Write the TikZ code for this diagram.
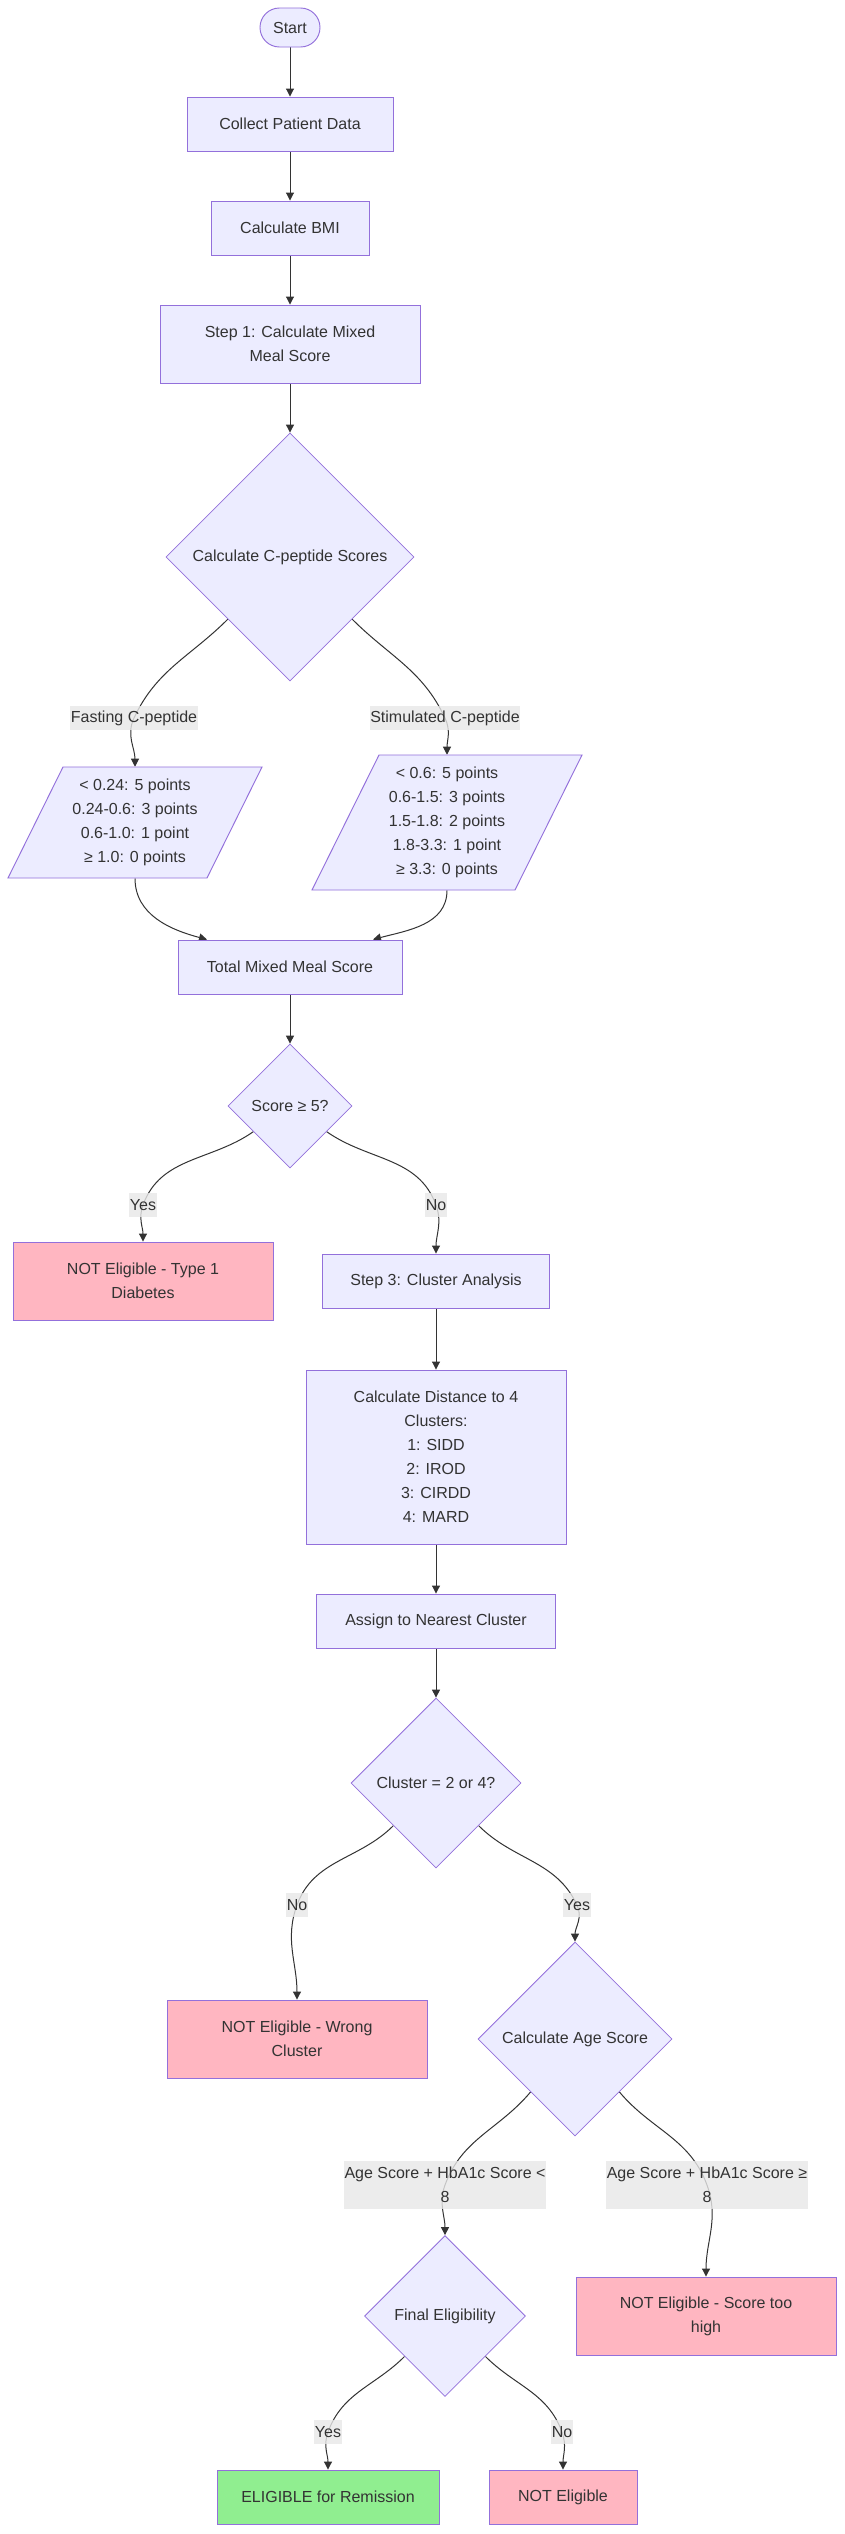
\documentclass[tikz,border=0pt]{standalone}
\usepackage{fontspec}
\setmainfont{Liberation Sans}
\usetikzlibrary{shapes.geometric,arrows.meta,calc,backgrounds}
\definecolor{boxfill}{HTML}{ECECFF}
\definecolor{boxline}{HTML}{9370DB}
\definecolor{linkline}{HTML}{333333}
\definecolor{labelfill}{HTML}{E8E8E8}
\definecolor{rejectfill}{HTML}{FFB6C1}
\definecolor{acceptfill}{HTML}{90EE90}

\begin{document}
\begin{tikzpicture}[x=0.75pt, y=-0.75pt,
			every node/.style = {font=\fontsize{12}{18}\selectfont, text=linkline, align=center, inner sep=0pt},
			box/.style = {rectangle, draw=boxline, fill=boxfill, line width=0.7pt, minimum height=40.5pt},
			reject/.style = {box, fill=rejectfill},
			accept/.style = {box, fill=acceptfill},
			decision/.style = {diamond, aspect=1, draw=boxline, fill=boxfill, line width=0.6pt},
			datashape/.style = {draw=boxline, fill=boxfill, line width=0.7pt},
			edgelabel/.style = {fill=labelfill, fill opacity=0.8, text opacity=1, minimum height=18pt, inner xsep=0.5pt},
			flow/.style = {draw=linkline, line width=0.75pt, -{Triangle[length=6pt,width=6pt]}}]
			
			\path[use as bounding box] (0,0) rectangle (844,2534);
			
			\node[box, rounded corners=14.6pt, minimum width=45pt, minimum height=29.25pt] (start) at (290,27.5) {Start};
			\node[box, minimum width=154.5pt] (collect) at (290,124) {Collect Patient Data};
			\node[box, minimum width=118.5pt] (bmi) at (290,228) {Calculate BMI};
			\node[box, minimum width=195pt, minimum height=58.5pt] (step1) at (290,344) {Step 1: Calculate Mixed\\Meal Score};
			\node[decision, minimum width=186pt, minimum height=186pt] (cpep) at (290,557) {Calculate C-peptide Scores};
			
			\coordinate (fastc) at (135,822.5);
			\coordinate (stimc) at (447,822.5);
			\draw[datashape] ($(fastc)+(-72,-55.5)$) -- ($(fastc)+(127,-55.5)$) -- ($(fastc)+(72,55.5)$) -- ($(fastc)+(-127,55.5)$) -- cycle;
			\draw[datashape] ($(stimc)+(-68,-67.5)$) -- ($(stimc)+(135,-67.5)$) -- ($(stimc)+(68,67.5)$) -- ($(stimc)+(-135,67.5)$) -- cycle;
			\node[minimum width=190.5pt, minimum height=83.25pt] (fast) at (fastc) {< 0.24: 5 points\\0.24-0.6: 3 points\\0.6-1.0: 1 point\\≥ 1.0: 0 points};
			\node[minimum width=202.5pt, minimum height=101.25pt] (stim) at (stimc) {< 0.6: 5 points\\0.6-1.5: 3 points\\1.5-1.8: 2 points\\1.8-3.3: 1 point\\≥ 3.3: 0 points};
			
			\node[box, minimum width=168pt] (total) at (290,967) {Total Mixed Meal Score};
			\node[decision, minimum width=93pt, minimum height=93pt] (score) at (290,1106) {Score ≥ 5?};
			\node[reject, minimum width=195pt, minimum height=58.5pt] (type1) at (143,1281) {NOT Eligible - Type 1\\Diabetes};
			\node[box, minimum width=170.25pt] (step3) at (436,1281) {Step 3: Cluster Analysis};
			\node[box, minimum width=195pt, minimum height=130.5pt] (dist) at (436,1457) {Calculate Distance to 4\\Clusters:\\1: SIDD\\2: IROD\\3: CIRDD\\4: MARD};
			\node[box, minimum width=179.25pt] (assign) at (436,1621) {Assign to Nearest Cluster};
			\node[decision, minimum width=127.5pt, minimum height=127.5pt] (clus) at (436,1783) {Cluster = 2 or 4?};
			\node[reject, minimum width=195pt, minimum height=58.5pt] (wrong) at (297,2039) {NOT Eligible - Wrong\\Cluster};
			\node[decision, minimum width=145.5pt, minimum height=145.5pt] (age) at (575,2039) {Calculate Age Score};
			\node[decision, minimum width=120.75pt, minimum height=120.75pt] (final) at (445,2316) {Final Eligibility};
			\node[reject, minimum width=195pt, minimum height=58.5pt] (high) at (706,2316) {NOT Eligible - Score too\\high};
			\node[accept, minimum width=166.5pt] (elig) at (328,2497) {ELIGIBLE for Remission};
			\node[reject, minimum width=111pt] (noel) at (563,2497) {NOT Eligible};
			
			\node[edgelabel] (lfast) at (134,718) {Fasting C-peptide};
			\node[edgelabel] (lstim) at (445,718) {Stimulated C-peptide};
			\node[edgelabel] (lyes1) at (143,1205) {Yes};
			\node[edgelabel] (lno1) at (436,1205) {No};
			\node[edgelabel] (lno2) at (297,1905) {No};
			\node[edgelabel] (lyes2) at (577,1905) {Yes};
			\node[edgelabel, minimum width=150pt, minimum height=36pt] (llow) at (445,2185) {Age Score + HbA1c Score <\\8};
			\node[edgelabel, minimum width=150pt, minimum height=36pt] (lhigh) at (707,2185) {Age Score + HbA1c Score ≥\\8};
			\node[edgelabel] (lyes3) at (328,2432) {Yes};
			\node[edgelabel] (lno3) at (562,2432) {No};
			
			\begin{scope}[on background layer]
				\fill[white] (0,0) rectangle (844,2534);
				\draw[flow] (start) -- (collect);
				\draw[flow] (collect) -- (bmi);
				\draw[flow] (bmi) -- (step1);
				\draw[flow] (step1) -- (cpep);
				\draw[flow] (cpep) to[out=-135,in=65] (lfast.center) to[out=-115,in=90] (fast);
				\draw[flow] (cpep) to[out=-45,in=115] (lstim.center) to[out=-65,in=90] (stim);
				\draw[flow] (fast) to[out=-90,in=165] ($(total.north)+(-83,0)$);
				\draw[flow] (stim) to[out=-90,in=15] ($(total.north)+(83,0)$);
				\draw[flow] (total) -- (score);
				\draw[flow] (score) to[out=-145,in=70] (lyes1.center) to[out=-110,in=90] (type1);
				\draw[flow] (score) to[out=-35,in=110] (lno1.center) to[out=-70,in=90] (step3);
				\draw[flow] (step3) -- (dist);
				\draw[flow] (dist) -- (assign);
				\draw[flow] (assign) -- (clus);
				\draw[flow] (clus) to[out=-135,in=70] (lno2.center) to[out=-110,in=90] (wrong);
				\draw[flow] (clus) to[out=-45,in=115] (lyes2.center) to[out=-65,in=90] (age);
				\draw[flow] (age) to[out=-130,in=70] (llow.center) to[out=-110,in=90] (final);
				\draw[flow] (age) to[out=-50,in=110] (lhigh.center) to[out=-70,in=90] (high);
				\draw[flow] (final) to[out=-135,in=70] (lyes3.center) to[out=-110,in=90] (elig);
				\draw[flow] (final) to[out=-45,in=110] (lno3.center) to[out=-70,in=90] (noel);
			\end{scope}
			\end{tikzpicture}
\end{document}
